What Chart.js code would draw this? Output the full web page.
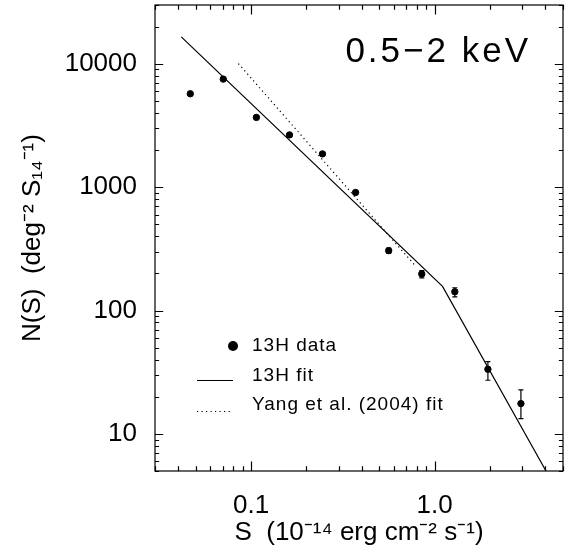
<!DOCTYPE html>
<html>
<head>
<meta charset="utf-8">
<script src="https://cdn.jsdelivr.net/npm/chart.js@4.4.1/dist/chart.umd.min.js"></script>
<style>
  html, body { margin: 0; padding: 0; background: #fff; }
  #wrap { width: 568px; height: 555px; }
</style>
</head>
<body>
<div id="wrap"><canvas id="ns" width="568" height="555"></canvas></div>
<script>
// --- data ---
const fluxBins   = [0.0467, 0.0706, 0.107, 0.162, 0.245, 0.371, 0.562, 0.851, 1.288, 1.95, 2.95];
const countsData = [5720, 7520, 3680, 2654, 1862, 906, 306, 198, 142, 33.4, 17.6];
const errLow     = [120, 160, 90, 60, 40, 30, 16, 14, 13, 6.2, 4.3];
const errHigh    = [120, 160, 90, 60, 40, 30, 15, 13, 11, 5.1, 5.1];

// broken power law (13H) and Yang et al. single power law
const fitS  = [0.0417, 1.104, 4.04];
const fitN  = [16530, 157, 5];
const yangS = [0.0854, 0.782];
const yangN = [10050, 232];

const xTickValues = [0.1, 1];
const xTickLabels = ["0.1", "1.0"];
const yTickValues = [10, 100, 1000, 10000];
const yTickLabels = ["10", "100", "1000", "10000"];

const legendLabels = ["13H data", "13H fit", "Yang et al. (2004) fit"];
const bandLabel = "0.5\u22122 keV";

const FONT = "'Liberation Sans', Arial, sans-serif";

const toPts = (xs, ys) => xs.map((x, i) => ({ x: x, y: ys[i] }));

// ticks inside the frame on all four sides, plus the frame itself
const frameTicks = {
    id: "frameTicks",
    afterDraw(chart) {
        const { ctx, chartArea: a, scales: { x, y } } = chart;
        ctx.save();
        ctx.strokeStyle = "#000";
        ctx.lineWidth = 1.2;
        ctx.strokeRect(a.left, a.top, a.right - a.left, a.bottom - a.top);

        const xMaj = 9.4, yMaj = 8.2;
        ctx.beginPath();
        for (let d = -2; d <= 1; d++) {
            for (let m = 1; m <= 9; m++) {
                const v = m * Math.pow(10, d);
                if (v < x.min || v > x.max) continue;
                const px = Math.round(x.getPixelForValue(v)) + 0.5;
                const len = m === 1 ? xMaj : xMaj / 2;
                ctx.moveTo(px, a.bottom); ctx.lineTo(px, a.bottom - len);
                ctx.moveTo(px, a.top); ctx.lineTo(px, a.top + len);
            }
        }
        for (let d = 0; d <= 4; d++) {
            for (let m = 1; m <= 9; m++) {
                const v = m * Math.pow(10, d);
                if (v < y.min || v > y.max) continue;
                const py = Math.round(y.getPixelForValue(v)) + 0.5;
                const len = m === 1 ? yMaj : yMaj / 2;
                ctx.moveTo(a.left, py); ctx.lineTo(a.left + len, py);
                ctx.moveTo(a.right, py); ctx.lineTo(a.right - len, py);
            }
        }
        ctx.stroke();
        ctx.restore();
    }
};

// vertical error bars with small caps
const errorBars = {
    id: "errorBars",
    afterDatasetsDraw(chart) {
        const { ctx, scales: { x, y } } = chart;
        ctx.save();
        ctx.strokeStyle = "#000";
        ctx.lineWidth = 1.2;
        ctx.beginPath();
        fluxBins.forEach((s, i) => {
            const px = x.getPixelForValue(s);
            const top = y.getPixelForValue(countsData[i] + errHigh[i]);
            const bot = y.getPixelForValue(countsData[i] - errLow[i]);
            ctx.moveTo(px, top); ctx.lineTo(px, bot);
            ctx.moveTo(px - 2.5, top); ctx.lineTo(px + 2.5, top);
            ctx.moveTo(px - 2.5, bot); ctx.lineTo(px + 2.5, bot);
        });
        ctx.stroke();
        ctx.restore();
    }
};

// legend block and the energy band label inside the plot
const annotations = {
    id: "annotations",
    afterDraw(chart) {
        const { ctx } = chart;
        ctx.save();
        ctx.fillStyle = "#000";
        ctx.strokeStyle = "#000";
        ctx.textBaseline = "middle";

        ctx.font = "35px " + FONT;
        ctx.letterSpacing = "3px";
        ctx.textAlign = "right";
        ctx.fillText(bandLabel, 531, 52);

        ctx.font = "19px " + FONT;
        ctx.letterSpacing = "1px";
        ctx.textAlign = "left";

        // data symbol
        ctx.beginPath();
        ctx.arc(233, 346, 5, 0, Math.PI * 2);
        ctx.fill();
        ctx.fillText(legendLabels[0], 252, 346);

        // solid fit
        ctx.lineWidth = 1.2;
        ctx.beginPath();
        ctx.moveTo(197, 380.5); ctx.lineTo(233, 380.5);
        ctx.stroke();
        ctx.fillText(legendLabels[1], 252, 376);

        // dotted fit
        ctx.setLineDash([1.2, 3.3]);
        ctx.beginPath();
        ctx.moveTo(197, 411.5); ctx.lineTo(233, 411.5);
        ctx.stroke();
        ctx.setLineDash([]);
        ctx.fillText(legendLabels[2], 252, 405);

        ctx.restore();
    }
};

new Chart(document.getElementById("ns"), {
    type: "scatter",
    data: {
        datasets: [
            {
                label: legendLabels[0],
                data: toPts(fluxBins, countsData),
                pointRadius: 3.2,
                pointBackgroundColor: "#000",
                pointBorderColor: "#000",
                showLine: false
            },
            {
                label: legendLabels[1],
                data: toPts(fitS, fitN),
                showLine: true,
                borderColor: "#000",
                borderWidth: 1.2,
                pointRadius: 0
            },
            {
                label: legendLabels[2],
                data: toPts(yangS, yangN),
                showLine: true,
                borderColor: "#000",
                borderWidth: 1.2,
                borderDash: [1.2, 3.3],
                pointRadius: 0
            }
        ]
    },
    options: {
        responsive: false,
        animation: false,
        events: [],
        layout: { padding: { top: 3, right: 1, left: 0, bottom: 0 } },
        plugins: { legend: { display: false }, tooltip: { enabled: false } },
        scales: {
            x: {
                type: "logarithmic",
                min: 0.03,
                max: 5,
                grid: { display: false, drawTicks: false },
                border: { display: false },
                afterBuildTicks: s => { s.ticks = xTickValues.map(v => ({ value: v })); },
                afterFit: s => { s.height = 84; s.paddingLeft = 0; s.paddingRight = 0; },
                ticks: {
                    padding: 19,
                    color: "#000",
                    maxRotation: 0,
                    font: { family: FONT, size: 26 },
                    callback: (v, i) => xTickLabels[i]
                },
                title: {
                    display: true,
                    text: "S  (10\u207b\u00b9\u2074 erg cm\u207b\u00b2 s\u207b\u00b9)",
                    color: "#000",
                    font: { family: FONT, size: 26 },
                    padding: { top: 0, bottom: 7 }
                }
            },
            y: {
                type: "logarithmic",
                min: 5,
                max: 30000,
                grid: { display: false, drawTicks: false },
                border: { display: false },
                afterBuildTicks: s => { s.ticks = yTickValues.map(v => ({ value: v })); },
                afterFit: s => { s.width = 155; s.paddingTop = 0; s.paddingBottom = 0; },
                ticks: {
                    padding: 18,
                    color: "#000",
                    font: { family: FONT, size: 26 },
                    callback: (v, i) => yTickLabels[i]
                },
                title: {
                    display: true,
                    text: "N(S)  (deg\u207b\u00b2 S\u2081\u2084\u207b\u00b9)",
                    color: "#000",
                    font: { family: FONT, size: 26 },
                    padding: { top: 17, bottom: 0 }
                }
            }
        }
    },
    plugins: [frameTicks, errorBars, annotations]
});
</script>
</body>
</html>
